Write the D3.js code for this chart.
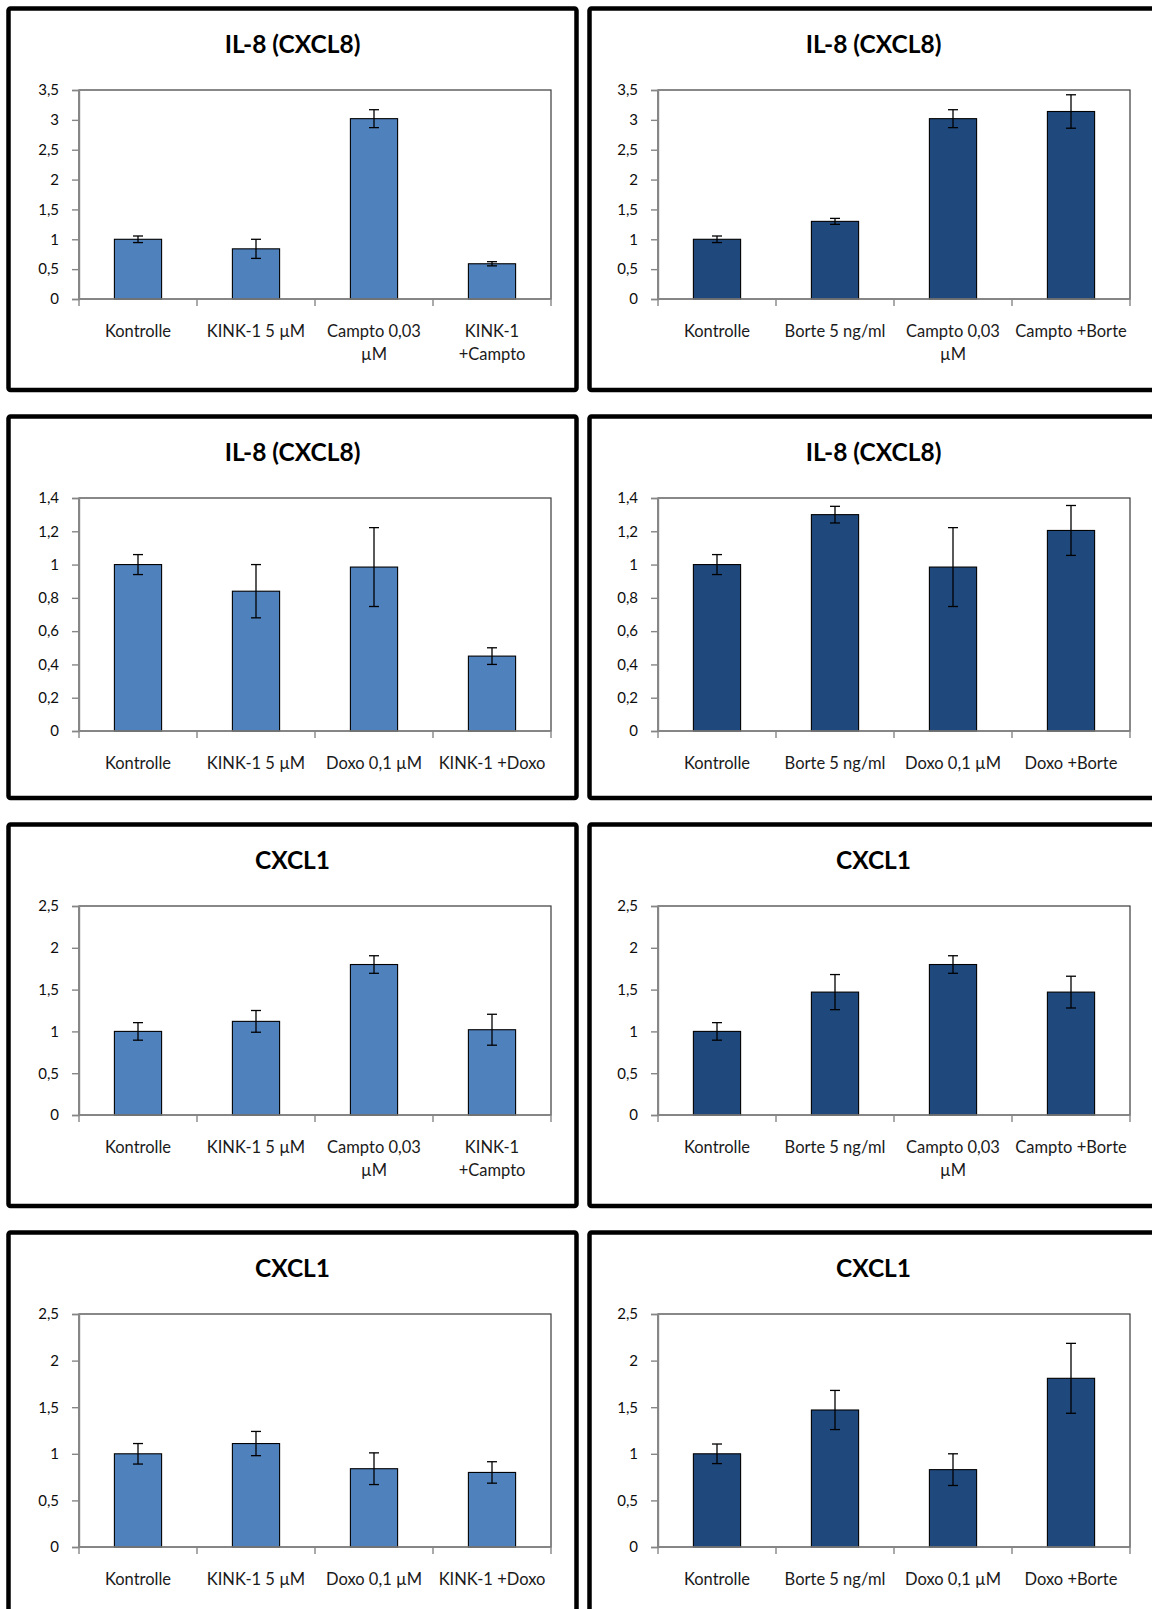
<!DOCTYPE html>
<html>
<head>
<meta charset="utf-8">
<script src="https://cdn.jsdelivr.net/npm/d3@7"></script>
<style>
  html, body { margin: 0; padding: 0; background: #fff; }
  svg { display: block; }
  text { font-family: Lato, "Open Sans", sans-serif; }
</style>
</head>
<body>
<script>
// Treatment groups (line breaks mark where the axis label wraps)
const catsKinkCampto  = ["Kontrolle", "KINK-1 5 µM", "Campto 0,03\nµM", "KINK-1\n+Campto"];
const catsBorteCampto = ["Kontrolle", "Borte 5 ng/ml", "Campto 0,03\nµM", "Campto +Borte"];
const catsKinkDoxo    = ["Kontrolle", "KINK-1 5 µM", "Doxo 0,1 µM", "KINK-1 +Doxo"];
const catsBorteDoxo   = ["Kontrolle", "Borte 5 ng/ml", "Doxo 0,1 µM", "Doxo +Borte"];

// Relative expression (mean) and error (±) per group
const il8KinkCamptoMean  = [1.00, 0.84, 3.02, 0.59];
const il8KinkCamptoErr   = [0.055, 0.16, 0.15, 0.035];
const il8BorteCamptoMean = [1.00, 1.30, 3.02, 3.14];
const il8BorteCamptoErr  = [0.055, 0.05, 0.15, 0.28];
const il8KinkDoxoMean    = [1.00, 0.84, 0.985, 0.45];
const il8KinkDoxoErr     = [0.06, 0.16, 0.237, 0.05];
const il8BorteDoxoMean   = [1.00, 1.30, 0.985, 1.205];
const il8BorteDoxoErr    = [0.06, 0.05, 0.237, 0.15];
const cxcl1KinkCamptoMean  = [1.00, 1.12, 1.80, 1.02];
const cxcl1KinkCamptoErr   = [0.105, 0.13, 0.105, 0.185];
const cxcl1BorteCamptoMean = [1.00, 1.47, 1.80, 1.47];
const cxcl1BorteCamptoErr  = [0.105, 0.21, 0.105, 0.19];
const cxcl1KinkDoxoMean    = [1.00, 1.11, 0.84, 0.80];
const cxcl1KinkDoxoErr     = [0.11, 0.13, 0.17, 0.115];
const cxcl1BorteDoxoMean   = [1.00, 1.47, 0.83, 1.81];
const cxcl1BorteDoxoErr    = [0.105, 0.21, 0.17, 0.375];

// Y-axis tick values
const ticks35 = [0, 0.5, 1, 1.5, 2, 2.5, 3, 3.5];
const ticks14 = [0, 0.2, 0.4, 0.6, 0.8, 1, 1.2, 1.4];
const ticks25 = [0, 0.5, 1, 1.5, 2, 2.5];

const titles = ["IL-8 (CXCL8)", "IL-8 (CXCL8)", "IL-8 (CXCL8)", "IL-8 (CXCL8)", "CXCL1", "CXCL1", "CXCL1", "CXCL1"];

const lightBlue = "#4F81BD";
const darkBlue = "#1F497D";

const panels = [
  { cats: catsKinkCampto,  mean: il8KinkCamptoMean,  err: il8KinkCamptoErr,  ticks: ticks35, color: lightBlue },
  { cats: catsBorteCampto, mean: il8BorteCamptoMean, err: il8BorteCamptoErr, ticks: ticks35, color: darkBlue },
  { cats: catsKinkDoxo,    mean: il8KinkDoxoMean,    err: il8KinkDoxoErr,    ticks: ticks14, color: lightBlue },
  { cats: catsBorteDoxo,   mean: il8BorteDoxoMean,   err: il8BorteDoxoErr,   ticks: ticks14, color: darkBlue },
  { cats: catsKinkCampto,  mean: cxcl1KinkCamptoMean,  err: cxcl1KinkCamptoErr,  ticks: ticks25, color: lightBlue },
  { cats: catsBorteCampto, mean: cxcl1BorteCamptoMean, err: cxcl1BorteCamptoErr, ticks: ticks25, color: darkBlue },
  { cats: catsKinkDoxo,    mean: cxcl1KinkDoxoMean,    err: cxcl1KinkDoxoErr,    ticks: ticks25, color: lightBlue },
  { cats: catsBorteDoxo,   mean: cxcl1BorteDoxoMean,   err: cxcl1BorteDoxoErr,   ticks: ticks25, color: darkBlue }
].map((p, i) => Object.assign(p, { title: titles[i] }));

const W = 1152, H = 1609;
const locale = d3.formatLocale({ decimal: ",", thousands: ".", grouping: [3], currency: ["", " €"] });
const fmt = locale.format("~g");

const svg = d3.select("body").append("svg").attr("width", W).attr("height", H);

const panelW = 568, panelH = 381.5;
const colX = [8.5, 589.5];
const rowY = [8.5, 416.5, 824.5, 1232.5];
const plotLeft = [70.5, 68.5], plotRight = [542.5, 540.5];

panels.forEach((p, i) => {
  const col = i % 2, row = Math.floor(i / 2);
  const g = svg.append("g").attr("transform", `translate(${colX[col]},${rowY[row]})`);

  // Chart frame
  g.append("rect")
    .attr("width", panelW).attr("height", panelH)
    .attr("rx", 2).attr("fill", "#fff")
    .attr("stroke", "#000").attr("stroke-width", 4.5);

  // Title
  g.append("text")
    .attr("x", panelW / 2).attr("y", 34.5)
    .attr("text-anchor", "middle").attr("dominant-baseline", "central")
    .attr("font-size", 24.5).attr("font-weight", 700).attr("fill", "#000")
    .text(p.title);

  const wraps = p.cats.some(c => c.includes("\n"));
  const top = 81.5, bottom = wraps ? 290.5 : 314.5;
  const left = plotLeft[col], right = plotRight[col];

  const x = d3.scaleBand().domain(p.cats).range([left, right]).paddingInner(0.6).paddingOuter(0.3);
  const xCat = d3.scaleBand().domain(p.cats).range([left, right]);
  const y = d3.scaleLinear().domain([0, d3.max(p.ticks)]).range([bottom, top]);

  // Plot area border
  g.append("rect")
    .attr("x", left).attr("y", top)
    .attr("width", right - left).attr("height", bottom - top)
    .attr("fill", "none").attr("stroke", "#3a3a3a").attr("stroke-width", 1.2);

  // Bars
  g.append("g").selectAll("rect")
    .data(p.cats)
    .join("rect")
    .attr("x", d => x(d))
    .attr("width", x.bandwidth())
    .attr("y", (d, k) => y(p.mean[k]))
    .attr("height", (d, k) => y(0) - y(p.mean[k]))
    .attr("fill", p.color)
    .attr("stroke", "#000").attr("stroke-width", 1.1);

  // Y axis
  const yAxis = g.append("g")
    .attr("transform", `translate(${left},0)`)
    .call(d3.axisLeft(y).tickValues(p.ticks).tickFormat(fmt).tickSize(7).tickPadding(13));
  yAxis.select(".domain").attr("stroke", "#868686").attr("stroke-width", 1.4);
  yAxis.selectAll(".tick line").attr("stroke", "#868686").attr("stroke-width", 1.4);
  yAxis.selectAll(".tick text")
    .attr("font-size", 15).attr("fill", "#0d0d0d")
    .attr("font-family", "Lato, 'Open Sans', sans-serif");

  // X axis with ticks at category boundaries
  g.append("line")
    .attr("x1", left).attr("x2", right).attr("y1", bottom).attr("y2", bottom)
    .attr("stroke", "#868686").attr("stroke-width", 1.4);
  const bounds = p.cats.map(c => xCat(c)).concat([right]);
  g.append("g").selectAll("line")
    .data(bounds)
    .join("line")
    .attr("x1", d => d).attr("x2", d => d)
    .attr("y1", bottom).attr("y2", bottom + 7)
    .attr("stroke", "#868686").attr("stroke-width", 1.4);

  // Error bars
  const eg = g.append("g").attr("stroke", "#000").attr("stroke-width", 1.3);
  p.cats.forEach((c, k) => {
    const cx = x(c) + x.bandwidth() / 2;
    const y1 = y(p.mean[k] + p.err[k]), y2 = y(p.mean[k] - p.err[k]);
    eg.append("line").attr("x1", cx).attr("x2", cx).attr("y1", y1).attr("y2", y2);
    eg.append("line").attr("x1", cx - 5).attr("x2", cx + 5).attr("y1", y1).attr("y2", y1);
    eg.append("line").attr("x1", cx - 5).attr("x2", cx + 5).attr("y1", y2).attr("y2", y2);
  });

  // Category labels
  g.append("g").selectAll("text")
    .data(p.cats)
    .join("text")
    .attr("x", d => xCat(d) + xCat.bandwidth() / 2)
    .attr("y", bottom + 38)
    .attr("text-anchor", "middle")
    .attr("font-size", 16.5).attr("fill", "#1a1a1a")
    .each(function (d) {
      const t = d3.select(this);
      d.split("\n").forEach((line, li) => {
        t.append("tspan")
          .attr("x", xCat(d) + xCat.bandwidth() / 2)
          .attr("dy", li === 0 ? 0 : 22.5)
          .text(line);
      });
    });
});
</script>
</body>
</html>
